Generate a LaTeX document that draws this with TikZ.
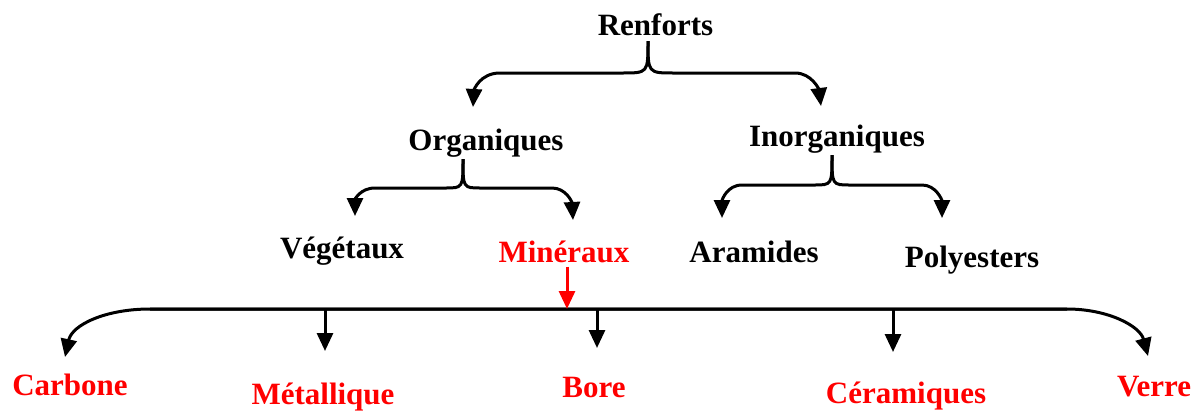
\documentclass[tikz,border=0pt]{standalone}
\usepackage{fontspec}
\setmainfont{Liberation Serif}
\usetikzlibrary{arrows.meta}
\tikzset{
  lbl/.style={font=\bfseries\fontsize{31}{36}\selectfont, inner sep=0pt, anchor=base},
  arr/.style={-{Triangle[width=16pt,length=18pt]}, line width=3pt}
}
\begin{document}
\begin{tikzpicture}[x=1pt, y=-1pt]
        \useasboundingbox (0,0) rectangle (1203,410);
        % labels
        \node[lbl] (renf) at (655.5,35) {Renforts};
        \node[lbl] (org) at (486,150) {Organiques};
        \node[lbl] (inorg) at (837,146) {Inorganiques};
        \node[lbl] (veg) at (342,258) {Végétaux};
        \node[lbl, red] (min) at (564,262) {Minéraux};
        \node[lbl] (aram) at (754,262) {Aramides};
        \node[lbl] (poly) at (972,267) {Polyesters};
        \node[lbl, red] (carb) at (70,395) {Carbone};
        \node[lbl, red] (metal) at (323,404) {Métallique};
        \node[lbl, red] (bore) at (594,397) {Bore};
        \node[lbl, red] (ceram) at (906,403) {Céramiques};
        \node[lbl, red] (verre) at (1154,396) {Verre};

        % brace ends
        \coordinate (renfc) at (648,41);
        \coordinate (orgtip) at (473,107);
        \coordinate (inorgtip) at (821,106);
        \coordinate (orgc) at (463,159);
        \coordinate (vegtip) at (355,216);
        \coordinate (mintip) at (573,220);
        \coordinate (inorgc) at (832,155);
        \coordinate (aramtip) at (722,218);
        \coordinate (polytip) at (942,218);

        \draw[arr] (renfc) .. controls (648,73) .. (622,73) -- (500,73)
          .. controls (480,73) and (474,90) .. (orgtip);
        \draw[arr] (renfc) .. controls (648,73) .. (674,73) -- (795,73)
          .. controls (812,73) and (819,90) .. (inorgtip);

        \draw[arr] (orgc) .. controls (463,188) .. (445,188) -- (375,188)
          .. controls (360,188) and (355,200) .. (vegtip);
        \draw[arr] (orgc) .. controls (463,188) .. (481,188) -- (552,188)
          .. controls (566,188) and (572,202) .. (mintip);

        \draw[arr] (inorgc) .. controls (832,185) .. (814,185) -- (742,185)
          .. controls (727,185) and (722,200) .. (aramtip);
        \draw[arr] (inorgc) .. controls (832,185) .. (850,185) -- (922,185)
          .. controls (936,185) and (942,200) .. (polytip);

        % bottom bar
        \coordinate (barl) at (150,309);
        \coordinate (barr) at (1067,309);
        \coordinate (barm) at (325,309);
        \coordinate (barb) at (597,309);
        \coordinate (barc) at (893,309);
        \coordinate (carbtip) at (65,357);
        \coordinate (verretip) at (1148,356);
        \coordinate (metaltip) at (325,351);
        \coordinate (boretip) at (597,348);
        \coordinate (ceramtip) at (893,352);

        \draw[arr] (barr) -- (barl) .. controls (105,309) and (72,325) .. (carbtip);
        \draw[arr] (barl) -- (barr) .. controls (1108,309) and (1140,326) .. (verretip);
        \draw[arr] (barm) -- (metaltip);
        \draw[arr] (barb) -- (boretip);
        \draw[arr] (barc) -- (ceramtip);
        \draw[arr, red] ([xshift=3pt, yshift=-4pt]min.south) -- ([xshift=3pt]min.south |- barl);
\end{tikzpicture}
\end{document}
